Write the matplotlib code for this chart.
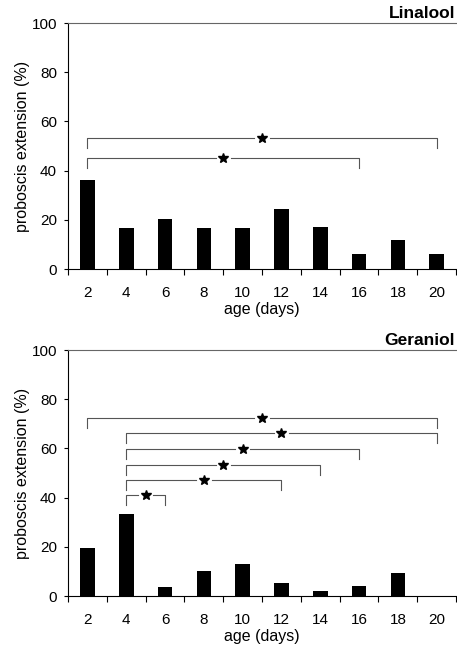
import numpy as np
import matplotlib as mpl
mpl.use('agg')
import matplotlib.pyplot as plt

plt.rcParams['font.family'] = ['Liberation Sans', 'DejaVu Sans']

## ages (days) and % proboscis extension
ages = [2, 4, 6, 8, 10, 12, 14, 16, 18, 20]
linalool = [36, 16.7, 20.2, 16.8, 16.7, 24.6, 17.2, 6.0, 11.6, 6.0]
geraniol = [19.6, 33.2, 3.8, 10.3, 13.2, 5.2, 2.2, 4.1, 9.2, 0.0]

## significant pairs (age from, age to, bracket height in %)
linalool_sig = [(2, 20, 53.3), (2, 16, 45.2)]
geraniol_sig = [(2, 20, 72.5), (4, 20, 66.1), (4, 16, 59.7),
                (4, 14, 53.3), (4, 12, 47.1), (4, 6, 41.1)]


def draw_panel(ax, values, sig, title):
    x = np.arange(len(ages))
    ax.bar(x, values, width=0.38, color='black', zorder=3)
    ax.set_xlim(-0.5, len(ages) - 0.5)
    ax.set_ylim(0, 100)
    ax.set_yticks([0, 20, 40, 60, 80, 100])
    ax.set_xticks(x)
    ax.set_xticklabels([str(a) for a in ages])
    ax.set_xticks(np.arange(-0.5, len(ages)), minor=True)
    ax.tick_params(axis='x', which='major', length=0, pad=12, labelsize=11)
    ax.tick_params(axis='x', which='minor', length=4, width=0.8, direction='out')
    ax.tick_params(axis='y', length=3, width=0.8, pad=5, labelsize=11)
    ax.spines['right'].set_visible(False)
    ax.spines['top'].set_color('#666666')
    ax.spines['top'].set_linewidth(0.8)
    for s in ['left', 'bottom']:
        ax.spines[s].set_linewidth(0.8)
    ax.set_xlabel('age (days)', fontsize=11.5, labelpad=2)
    ax.set_ylabel('proboscis extension (%)', fontsize=11.5, labelpad=1)
    ax.text(0.997, 1.04, title, transform=ax.transAxes, ha='right',
            va='center', fontsize=12.5, fontweight='bold')

    # significance brackets
    for a, b, h in sig:
        x0 = ages.index(a)
        x1 = ages.index(b)
        mid = (x0 + x1) / 2
        gap = 0.2
        ax.plot([x0, x0, mid - gap], [h - 4, h, h], color='#555555', lw=0.8)
        ax.plot([mid + gap, x1, x1], [h, h, h - 4], color='#555555', lw=0.8)
        ax.plot(mid, h, marker='*', color='black', markersize=7)


fig = plt.figure(figsize=(4.57, 6.47), dpi=100)
ax1 = fig.add_axes([0.149, 0.5842, 0.849, 0.3802])
ax2 = fig.add_axes([0.149, 0.0788, 0.849, 0.3802])
draw_panel(ax1, linalool, linalool_sig, 'Linalool')
draw_panel(ax2, geraniol, geraniol_sig, 'Geraniol')

fig.savefig('out.png', dpi=100)
